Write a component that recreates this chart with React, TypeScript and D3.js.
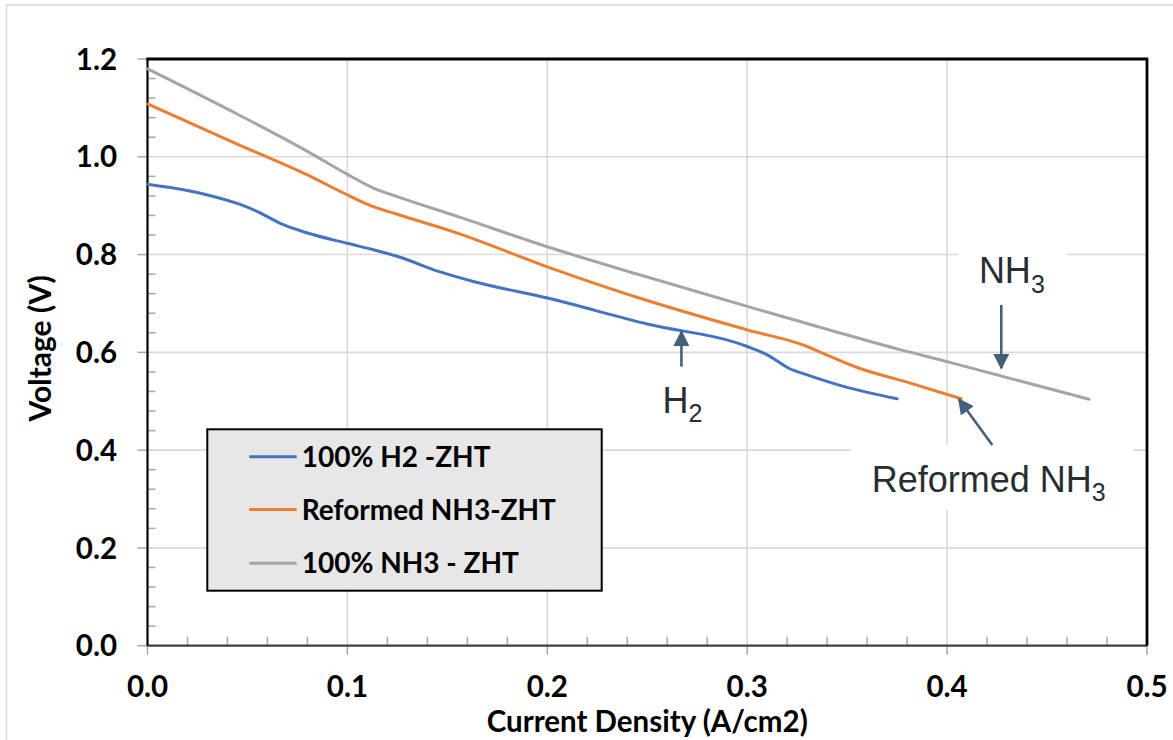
import React from 'react';
import * as d3 from 'd3';

// Polarisation curves (current density in A/cm2, cell voltage in V)
const h2Current = [0, 0.013, 0.03, 0.046, 0.055, 0.068, 0.08, 0.1, 0.113, 0.126, 0.146, 0.163, 0.2, 0.25, 0.3, 0.31, 0.321, 0.33, 0.346, 0.375];
const h2Voltage = [0.944, 0.936, 0.922, 0.903, 0.888, 0.861, 0.844, 0.823, 0.81, 0.795, 0.765, 0.745, 0.711, 0.658, 0.612, 0.595, 0.567, 0.554, 0.533, 0.505];

const reformedCurrent = [0, 0.046, 0.08, 0.1, 0.113, 0.126, 0.155, 0.2, 0.25, 0.3, 0.33, 0.338, 0.355, 0.38, 0.407];
const reformedVoltage = [1.108, 1.024, 0.963, 0.922, 0.898, 0.881, 0.844, 0.775, 0.706, 0.646, 0.612, 0.598, 0.569, 0.539, 0.505];

const nh3Current = [0, 0.046, 0.08, 0.1, 0.113, 0.126, 0.155, 0.2, 0.25, 0.3, 0.346, 0.376, 0.4, 0.471];
const nh3Voltage = [1.18, 1.085, 1.011, 0.964, 0.936, 0.917, 0.878, 0.816, 0.754, 0.694, 0.64, 0.606, 0.581, 0.504];

const seriesNames = ['100% H2 -ZHT', 'Reformed NH3-ZHT', '100% NH3 - ZHT'];
const seriesColors = ['#4472c4', '#ed7d31', '#a5a5a5'];

const xTicks = [0, 0.1, 0.2, 0.3, 0.4, 0.5];
const yTicks = [0, 0.2, 0.4, 0.6, 0.8, 1.0, 1.2];
const xMinorStep = 0.02;
const yMinorStep = 0.04;

const xTitle = 'Current Density (A/cm2)';
const yTitle = 'Voltage (V)';

const W = 1173;
const H = 740;
const plot = { left: 147.5, right: 1147, top: 59, bottom: 645.7 };

const tickFont = 'Lato, "Open Sans", sans-serif';
const noteFont = '"Liberation Sans", Arial, sans-serif';
const arrowColor = '#44607a';
const noteColor = '#262e33';

export default function App() {
  const x = d3.scaleLinear().domain([0, 0.5]).range([plot.left, plot.right]);
  const y = d3.scaleLinear().domain([0, 1.2]).range([plot.bottom, plot.top]);

  const line = d3
    .line<[number, number]>()
    .x((d) => x(d[0]))
    .y((d) => y(d[1]))
    .curve(d3.curveMonotoneX);

  const series = [
    d3.zip(h2Current, h2Voltage) as [number, number][],
    d3.zip(reformedCurrent, reformedVoltage) as [number, number][],
    d3.zip(nh3Current, nh3Voltage) as [number, number][],
  ];

  const xMinor = d3.range(0, 0.5 + 1e-9, xMinorStep).filter((v) => Math.abs(v * 10 - Math.round(v * 10)) > 1e-6);
  const yMinor = d3.range(0, 1.2 + 1e-9, yMinorStep).filter((v) => Math.abs(v * 5 - Math.round(v * 5)) > 1e-6);

  const legend = { x: 207.3, y: 429.3, w: 394.4, h: 161.4 };
  const legendRows = [456.7, 509.5, 563.3];

  return (
    <svg
      width={W}
      height={H}
      style={{ position: 'absolute', left: 0, top: 0, background: '#fff' }}
    >
      <defs>
        <marker
          id="arrowHead"
          viewBox="0 0 10 10"
          refX="9"
          refY="5"
          markerWidth="16"
          markerHeight="16"
          markerUnits="userSpaceOnUse"
          orient="auto"
        >
          <path d="M0,0 L10,5 L0,10 z" fill={arrowColor} />
        </marker>
      </defs>

      {/* chart frame */}
      <rect x={6.5} y={5} width={W + 20} height={H + 20} fill="none" stroke="#d9d9d9" strokeWidth={1.5} />

      {/* gridlines */}
      <g stroke="#d9d9d9" strokeWidth={1.6}>
        {xTicks.slice(1, -1).map((t) => (
          <line key={'gx' + t} x1={x(t)} x2={x(t)} y1={plot.top} y2={plot.bottom} />
        ))}
        {yTicks.slice(1, -1).map((t) => (
          <line key={'gy' + t} x1={plot.left} x2={plot.right} y1={y(t)} y2={y(t)} />
        ))}
      </g>

      {/* label backgrounds */}
      <rect x={x(0.4054)} y={248} width={x(0.4599) - x(0.4054)} height={50} fill="#fff" />
      <rect x={x(0.3521)} y={y(0.4106)} width={x(0.4929) - x(0.3521)} height={y(0.2777) - y(0.4106)} fill="#fff" />

      {/* tick marks */}
      <g stroke="#a6a6a6" strokeWidth={1.5}>
        {xTicks.map((t) => (
          <line key={'tx' + t} x1={x(t)} x2={x(t)} y1={plot.bottom} y2={plot.bottom + 9} />
        ))}
        {xMinor.map((t) => (
          <line key={'mx' + t} x1={x(t)} x2={x(t)} y1={plot.bottom} y2={plot.bottom - 9} />
        ))}
        {yTicks.map((t) => (
          <line key={'ty' + t} x1={plot.left - 10} x2={plot.left} y1={y(t)} y2={y(t)} />
        ))}
        {yMinor.map((t) => (
          <line key={'my' + t} x1={plot.left} x2={plot.left + 8} y1={y(t)} y2={y(t)} />
        ))}
      </g>

      {/* plot borders */}
      <line x1={plot.left} x2={plot.right} y1={plot.bottom} y2={plot.bottom} stroke="#404040" strokeWidth={2.2} />
      <line x1={plot.left} x2={plot.left} y1={plot.top - 1} y2={plot.bottom} stroke="#000" strokeWidth={2.2} />
      <line x1={plot.left - 1} x2={plot.right + 1.2} y1={plot.top} y2={plot.top} stroke="#000" strokeWidth={2.8} />
      <line x1={plot.right} x2={plot.right} y1={plot.top} y2={plot.bottom} stroke="#000" strokeWidth={2.8} />

      {/* series */}
      {series.map((s, i) => (
        <path key={seriesNames[i]} d={line(s) || ''} fill="none" stroke={seriesColors[i]} strokeWidth={3} strokeLinejoin="round" strokeLinecap="round" />
      ))}

      {/* tick labels */}
      <g fontFamily={tickFont} fontWeight={700} fontSize={29.5} fill="#000">
        {yTicks.map((t) => (
          <text key={'ly' + t} x={117} y={y(t)} dy="0.36em" textAnchor="end">
            {d3.format('.1f')(t)}
          </text>
        ))}
        {xTicks.map((t) => (
          <text key={'lx' + t} x={x(t)} y={697.3} textAnchor="middle">
            {d3.format('.1f')(t)}
          </text>
        ))}
      </g>

      {/* axis titles */}
      <text x={(plot.left + plot.right) / 2} y={731.5} textAnchor="middle" fontFamily={tickFont} fontWeight={700} fontSize={29.5} fill="#000">
        {xTitle}
      </text>
      <text
        transform={`translate(51,${(plot.top + plot.bottom) / 2 - 4}) rotate(-90)`}
        textAnchor="middle"
        fontFamily={tickFont}
        fontWeight={700}
        fontSize={30}
        fill="#000"
      >
        {yTitle}
      </text>

      {/* legend */}
      <rect x={legend.x} y={legend.y} width={legend.w} height={legend.h} fill="#e7e7e7" stroke="#000" strokeWidth={2} />
      {seriesNames.map((name, i) => (
        <g key={'lg' + name}>
          <line x1={249.3} x2={296.7} y1={legendRows[i]} y2={legendRows[i]} stroke={seriesColors[i]} strokeWidth={3} />
          <text x={301.7} y={legendRows[i]} dy="0.36em" fontFamily={tickFont} fontWeight={700} fontSize={28} fill="#000">
            {name}
          </text>
        </g>
      ))}

      {/* annotations */}
      <g stroke={arrowColor} strokeWidth={2.6} fill="none">
        <line x1={x(0.4271)} x2={x(0.4271)} y1={y(0.697)} y2={y(0.5675)} markerEnd="url(#arrowHead)" />
        <line x1={x(0.2671)} x2={x(0.2671)} y1={y(0.5708)} y2={y(0.6424)} markerEnd="url(#arrowHead)" />
        <line x1={x(0.4226)} x2={x(0.4059)} y1={y(0.4106)} y2={y(0.5041)} markerEnd="url(#arrowHead)" />
      </g>
      <g fontFamily={noteFont} fontSize={36} fill={noteColor}>
        <text x={x(0.4159)} y={y(0.7415)}>
          NH<tspan fontSize={25} dy={9.5}>3</tspan>
        </text>
        <text x={x(0.2576)} y={y(0.4763)}>
          H<tspan fontSize={25} dy={9.5}>2</tspan>
        </text>
        <text x={x(0.3623)} y={y(0.315)}>
          Reformed NH<tspan fontSize={25} dy={9.5}>3</tspan>
        </text>
      </g>
    </svg>
  );
}
